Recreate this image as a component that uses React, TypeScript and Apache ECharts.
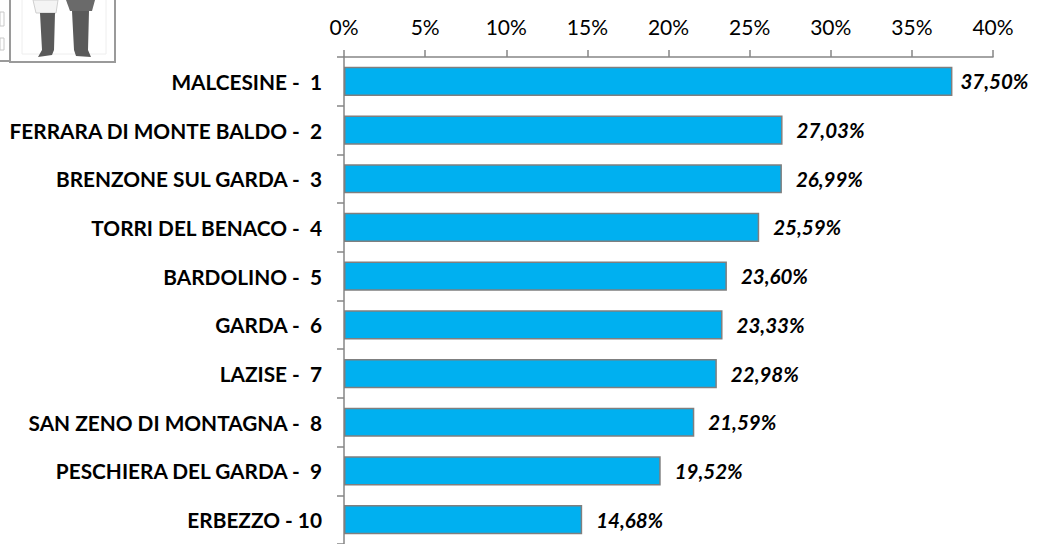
import React, { useEffect, useRef } from "react";
import * as echarts from "echarts";

const categories = [
  "MALCESINE -  1",
  "FERRARA DI MONTE BALDO -  2",
  "BRENZONE SUL GARDA -  3",
  "TORRI DEL BENACO -  4",
  "BARDOLINO -  5",
  "GARDA -  6",
  "LAZISE -  7",
  "SAN ZENO DI MONTAGNA -  8",
  "PESCHIERA DEL GARDA -  9",
  "ERBEZZO - 10",
];
const values = [37.5, 27.03, 26.99, 25.59, 23.6, 23.33, 22.98, 21.59, 19.52, 14.68];
const axisMin = 0;
const axisMax = 40;
const axisStep = 5;

export default function App() {
  const ref = useRef<HTMLDivElement>(null);
  useEffect(() => {
    if (!ref.current) return;
    const chart = echarts.init(ref.current, undefined, { renderer: "svg" });
    const font = "Lato, 'Open Sans', sans-serif";
    chart.setOption({
      animation: false,
      backgroundColor: "#ffffff",
      grid: { left: 344, top: 57, width: 649, height: 495, containLabel: false },
      xAxis: {
        type: "value",
        position: "top",
        min: axisMin,
        max: axisMax,
        interval: axisStep,
        axisLine: { show: true, lineStyle: { color: "#868686", width: 1.5 } },
        axisTick: { show: true, length: 7, lineStyle: { color: "#868686", width: 1.5 } },
        splitLine: { show: false },
        axisLabel: {
          formatter: "{value}%",
          color: "#000000",
          fontSize: 21,
          fontFamily: font,
          margin: 20,
        },
      },
      yAxis: {
        type: "category",
        inverse: true,
        data: categories,
        axisLine: { show: true, lineStyle: { color: "#868686", width: 1.5 } },
        axisTick: { show: true, length: 7, lineStyle: { color: "#868686", width: 1.5 } },
        axisLabel: {
          color: "#000000",
          fontSize: 20.8,
          fontWeight: "bold",
          fontFamily: font,
          margin: 22,
        },
      },
      series: [
        {
          type: "bar",
          data: values.map((v, i) => (i === 0 ? { value: v, label: { distance: 8 } } : v)),
          barCategoryGap: "40%",
          itemStyle: { color: "#00b0f0", borderColor: "#7f7f7f", borderWidth: 1.5 },
          label: {
            show: true,
            position: "right",
            distance: 14,
            color: "#000000",
            fontSize: 20.5,
            fontWeight: "bold",
            fontStyle: "italic",
            fontFamily: font,
            formatter: (p: any) => p.value.toFixed(2).replace(".", ",") + "%",
          },
        },
      ],
      graphic: [
        { type: "rect", shape: { x: 10, y: -4, width: 105, height: 66 }, style: { fill: "#ffffff", stroke: "#9a9a9a", lineWidth: 2 } },
        { type: "rect", shape: { x: 22, y: -4, width: 84, height: 58 }, style: { fill: "none", stroke: "#eeeeee", lineWidth: 1 } },
        { type: "polygon", shape: { points: [[33, 0], [58, 0], [56, 13], [36, 13]] }, style: { fill: "#f4f4f4", stroke: "#cfcfcf", lineWidth: 1 } },
        { type: "polygon", shape: { points: [[66, 0], [95, 0], [92, 11], [70, 11]] }, style: { fill: "#6a6a6a" } },
        { type: "polygon", shape: { points: [[40, 13], [55, 13], [54, 50], [52, 55], [38, 57], [42, 50]] }, style: { fill: "#5a5a5a" } },
        { type: "polygon", shape: { points: [[72, 11], [89, 11], [88, 50], [91, 57], [76, 56], [74, 50]] }, style: { fill: "#5a5a5a" } },
        { type: "rect", shape: { x: 0, y: 12, width: 4, height: 14 }, style: { fill: "none", stroke: "#c8c8c8", lineWidth: 1 } },
        { type: "rect", shape: { x: 0, y: 38, width: 4, height: 12 }, style: { fill: "none", stroke: "#c8c8c8", lineWidth: 1 } },
        { type: "line", shape: { x1: 0, y1: 61, x2: 10, y2: 61 }, style: { stroke: "#9a9a9a", lineWidth: 2 } },
      ],
    });
    return () => chart.dispose();
  }, []);
  return <div ref={ref} style={{ width: 1039, height: 544, position: "absolute", left: 0, top: 0 }} />;
}
